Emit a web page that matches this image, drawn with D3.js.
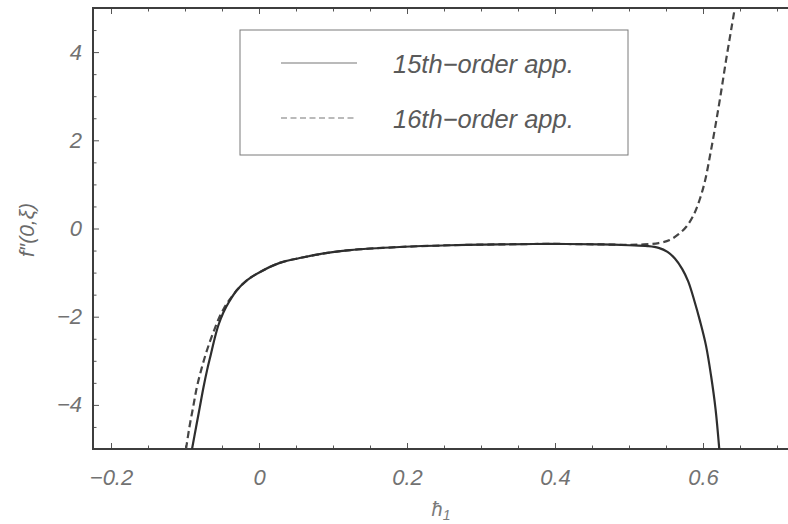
<!DOCTYPE html>
<html>
<head>
<meta charset="utf-8">
<script src="https://cdn.jsdelivr.net/npm/d3@7/dist/d3.min.js"></script>
<style>
  html, body { margin: 0; padding: 0; background: #fff; }
  svg { display: block; }
  text { font-family: "Liberation Sans", Arial, sans-serif; font-style: italic; }
</style>
</head>
<body>
<svg id="chart" width="788" height="524"></svg>
<script>
// 15th-order approximation of f''(0, xi) against h1
const h15 = [-0.0905, -0.085, -0.080, -0.075, -0.070, -0.065, -0.060, -0.055, -0.048, -0.040,
             -0.030, -0.016, 0.001, 0.028, 0.055, 0.090, 0.123, 0.190, 0.258, 0.326,
             0.393, 0.460, 0.500, 0.525, 0.540, 0.552, 0.562, 0.572, 0.580, 0.588,
             0.596, 0.604, 0.611, 0.617, 0.622];
const f15 = [-5.0, -4.5, -4.05, -3.6, -3.2, -2.85, -2.5, -2.2, -1.9, -1.65,
             -1.40, -1.17, -0.99, -0.78, -0.67, -0.56, -0.49, -0.42, -0.38, -0.36,
             -0.35, -0.36, -0.38, -0.40, -0.44, -0.53, -0.68, -0.92, -1.2, -1.62,
             -2.1, -2.65, -3.35, -4.1, -5.0];

// 16th-order approximation
const h16 = [-0.0986, -0.094, -0.089, -0.084, -0.078, -0.072, -0.066, -0.060, -0.054, -0.047,
             -0.040, -0.030, -0.016, 0.001, 0.028, 0.055, 0.090, 0.123, 0.190, 0.258,
             0.326, 0.393, 0.460, 0.500, 0.520, 0.540, 0.555, 0.567, 0.578, 0.588,
             0.596, 0.603, 0.610, 0.617, 0.624, 0.631, 0.638, 0.645];
const f16 = [-5.0, -4.5, -4.05, -3.6, -3.2, -2.85, -2.55, -2.28, -2.03, -1.8,
             -1.62, -1.40, -1.17, -0.99, -0.78, -0.67, -0.56, -0.49, -0.42, -0.38,
             -0.36, -0.35, -0.36, -0.37, -0.36, -0.33, -0.26, -0.13, 0.05, 0.33,
             0.68, 1.1, 1.7, 2.35, 3.05, 3.8, 4.5, 5.2];

const seriesNames = ["15th\u2212order app.", "16th\u2212order app."];

const xMajor = [-0.2, 0, 0.2, 0.4, 0.6];
const xMajorLabels = ["\u22120.2", "0", "0.2", "0.4", "0.6"];
const yMajor = [-4, -2, 0, 2, 4];
const yMajorLabels = ["\u22124", "\u22122", "0", "2", "4"];

const svg = d3.select("#chart");
const plotLeft = 93, plotTop = 8, plotBottom = 449, plotRight = 800;

const x = d3.scaleLinear().domain([-0.2, 0.6]).range([111, 703]);
const y = d3.scaleLinear().domain([-5, 5]).range([plotBottom, plotTop]);

const frameColor = "#3e3e3e";
const labelColor = "#727272";

svg.append("defs").append("clipPath").attr("id", "plotClip")
  .append("rect").attr("x", plotLeft).attr("y", plotTop)
  .attr("width", plotRight - plotLeft).attr("height", plotBottom - plotTop);

// minor tick positions
const xMinor = d3.range(-0.2, 0.85, 0.05).map(v => +v.toFixed(2)).filter(v => !xMajor.includes(v));
const yMinor = d3.range(-5, 5.01, 0.5).map(v => +v.toFixed(1)).filter(v => !yMajor.includes(v));

function styleAxis(g) {
  g.select(".domain").remove();
  g.selectAll("line").attr("stroke", "#555").attr("stroke-width", 1);
  g.selectAll("text").attr("fill", labelColor).attr("font-size", 22)
    .attr("font-family", "'Liberation Sans', Arial, sans-serif").attr("font-style", "italic");
}

// bottom axis: labelled majors and inward minors
svg.append("g").attr("transform", `translate(0,${plotBottom})`)
  .call(d3.axisBottom(x).tickValues(xMajor).tickSize(-6).tickPadding(20)
    .tickFormat((d, i) => xMajorLabels[i]))
  .call(styleAxis);
svg.append("g").attr("transform", `translate(0,${plotBottom})`)
  .call(d3.axisBottom(x).tickValues(xMinor).tickSize(-3.5).tickFormat(""))
  .call(styleAxis);

// top axis ticks (no labels)
svg.append("g").attr("transform", `translate(0,${plotTop})`)
  .call(d3.axisTop(x).tickValues(xMajor).tickSize(-6).tickFormat(""))
  .call(styleAxis);
svg.append("g").attr("transform", `translate(0,${plotTop})`)
  .call(d3.axisTop(x).tickValues(xMinor).tickSize(-3.5).tickFormat(""))
  .call(styleAxis);

// left axis
svg.append("g").attr("transform", `translate(${plotLeft},0)`)
  .call(d3.axisLeft(y).tickValues(yMajor).tickSize(-6).tickPadding(11)
    .tickFormat((d, i) => yMajorLabels[i]))
  .call(styleAxis);
svg.append("g").attr("transform", `translate(${plotLeft},0)`)
  .call(d3.axisLeft(y).tickValues(yMinor).tickSize(-3.5).tickFormat(""))
  .call(styleAxis);

// frame
svg.append("rect").attr("x", plotLeft).attr("y", plotTop)
  .attr("width", plotRight - plotLeft).attr("height", plotBottom - plotTop)
  .attr("fill", "none").attr("stroke", frameColor).attr("stroke-width", 2);

// curves
const line = d3.line().curve(d3.curveCatmullRom.alpha(0.5))
  .x(d => x(d[0])).y(d => y(d[1]));

const plot = svg.append("g").attr("clip-path", "url(#plotClip)");

plot.append("path")
  .datum(h16.map((h, i) => [h, f16[i]]))
  .attr("d", line)
  .attr("fill", "none").attr("stroke", "#454545").attr("stroke-width", 2.2)
  .attr("stroke-dasharray", "7,4");

plot.append("path")
  .datum(h15.map((h, i) => [h, f15[i]]))
  .attr("d", line)
  .attr("fill", "none").attr("stroke", "#2e2e2e").attr("stroke-width", 2.2);

// legend
const legend = svg.append("g");
legend.append("rect").attr("x", 240).attr("y", 30).attr("width", 388).attr("height", 125)
  .attr("fill", "#fff").attr("stroke", "#7a7a7a").attr("stroke-width", 1);

const legendRows = [
  { name: seriesNames[0], dash: null, y: 63 },
  { name: seriesNames[1], dash: "6,3.5", y: 118 }
];
legendRows.forEach(r => {
  legend.append("line").attr("x1", 281).attr("x2", 357).attr("y1", r.y).attr("y2", r.y)
    .attr("stroke", "#777").attr("stroke-width", 1.2)
    .attr("stroke-dasharray", r.dash);
  legend.append("text").attr("x", 393).attr("y", r.y + 10)
    .attr("font-size", 25.5).attr("fill", "#5a5a5a").text(r.name);
});

// axis titles
svg.append("text")
  .attr("transform", "translate(34,230) rotate(-90)")
  .attr("text-anchor", "middle").attr("font-size", 21).attr("fill", "#6a6a6a")
  .text("f\u2033(0,\u03be)");

const xt = svg.append("text").attr("x", 441).attr("y", 516)
  .attr("text-anchor", "middle").attr("font-size", 20).attr("fill", "#7a7a7a");
xt.append("tspan").text("\u0127");
xt.append("tspan").attr("font-size", 14).attr("dy", 4).text("1");
</script>
</body>
</html>
